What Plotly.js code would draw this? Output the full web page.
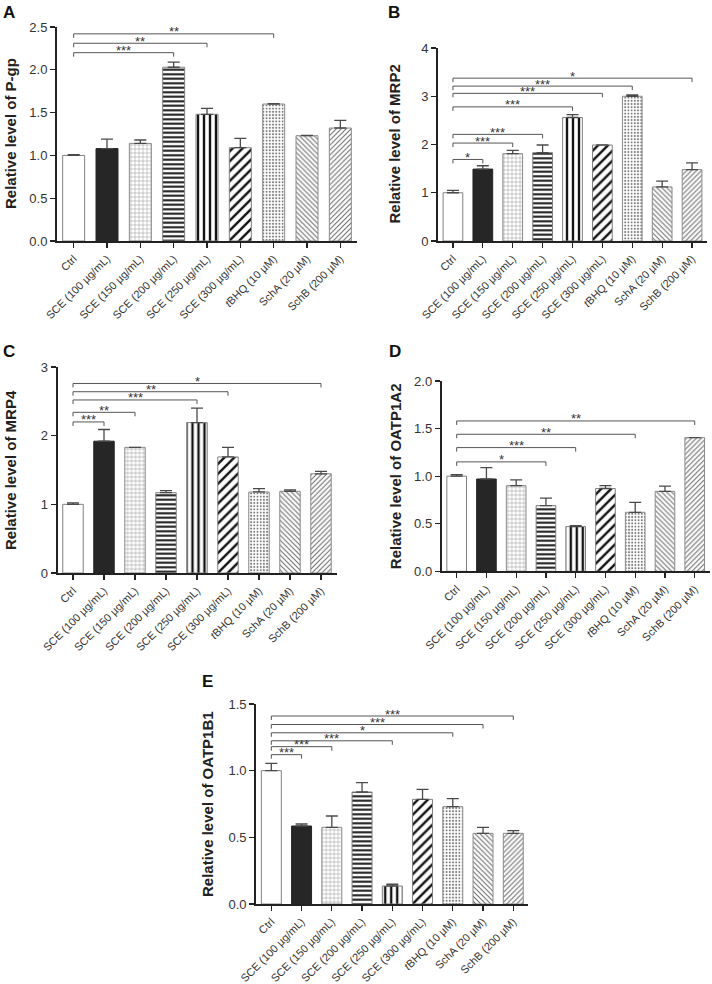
<!DOCTYPE html>
<html>
<head>
<meta charset="utf-8">
<script src="https://cdn.plot.ly/plotly-3.0.1.min.js"></script>
<style>html,body{margin:0;padding:0;background:#fff;}#chart{width:712px;height:984px;}</style>
</head>
<body>
<div id="chart"></div>
<script>
// ---------- DATA ----------
const categories = ["Ctrl", "SCE (100 µg/mL)", "SCE (150 µg/mL)", "SCE (200 µg/mL)", "SCE (250 µg/mL)",
  "SCE (300 µg/mL)", "<i>t</i>BHQ (10 µM)", "SchA (20 µM)", "SchB (200 µM)"];

const pgpMean   = [1.00, 1.08, 1.14, 2.03, 1.48, 1.09, 1.60, 1.23, 1.32];
const pgpErr    = [0.01, 0.11, 0.04, 0.06, 0.07, 0.11, 0.005, 0.005, 0.09];
const pgpSig    = [[3, 2.20, "***"], [4, 2.31, "**"], [6, 2.42, "**"]];

const mrp2Mean  = [1.00, 1.49, 1.81, 1.83, 2.56, 1.99, 3.00, 1.12, 1.48];
const mrp2Err   = [0.05, 0.07, 0.07, 0.16, 0.06, 0.00, 0.03, 0.12, 0.14];
const mrp2Sig   = [[1, 1.69, "*"], [2, 2.03, "***"], [3, 2.21, "***"], [4, 2.78, "***"], [5, 3.06, "***"], [6, 3.21, "***"], [8, 3.375, "*"]];

const mrp4Mean  = [1.00, 1.92, 1.83, 1.17, 2.19, 1.69, 1.18, 1.19, 1.445];
const mrp4Err   = [0.02, 0.17, 0.00, 0.03, 0.21, 0.14, 0.05, 0.02, 0.035];
const mrp4Sig   = [[1, 2.20, "***"], [2, 2.34, "**"], [4, 2.52, "***"], [5, 2.64, "**"], [8, 2.76, "*"]];

const oatp1a2Mean = [1.00, 0.97, 0.90, 0.69, 0.47, 0.87, 0.62, 0.84, 1.405];
const oatp1a2Err  = [0.015, 0.12, 0.06, 0.08, 0.01, 0.03, 0.105, 0.055, 0.00];
const oatp1a2Sig  = [[3, 1.15, "*"], [4, 1.30, "***"], [6, 1.44, "**"], [8, 1.58, "**"]];

const oatp1b1Mean = [1.00, 0.585, 0.575, 0.84, 0.135, 0.785, 0.73, 0.53, 0.53];
const oatp1b1Err  = [0.055, 0.015, 0.085, 0.07, 0.013, 0.075, 0.06, 0.045, 0.02];
const oatp1b1Sig  = [[1, 1.12, "***"], [2, 1.18, "***"], [4, 1.224, "***"], [6, 1.284, "*"], [7, 1.346, "***"], [8, 1.41, "***"]];

const yTitles = ["Relative level of P-gp", "Relative level of MRP2", "Relative level of MRP4",
  "Relative level of OATP1A2", "Relative level of OATP1B1"];
const panelLetters = ["A", "B", "C", "D", "E"];
const yMax = [2.5, 4, 3, 2.0, 1.5];
const yStep = [0.5, 1, 1, 0.5, 0.5];

// ---------- STYLE / LAYOUT ----------
const W = 712, H = 984;
// pixel geometry of each plot area: [left, right, top(ymax), bottom(y=0)]
const geom = [
  [57, 357, 27, 241],
  [438, 707, 48, 241],
  [57.5, 336.5, 367, 573],
  [441.8, 709.6, 381, 571.3],
  [256.2, 528.4, 704, 904]
];
const titleX = [10, 394, 10, 395, 207];
const letterPos = [[2, 2], [387, 2], [2, 341], [388, 341], [201, 671]];

// per-bar style: marker colour is the fill for plain bars and the ink colour for patterned bars
const patShape = ["", "", "+", "-", "|", "/", ".", "\\", "/"];
const barColor = ["#ffffff", "#262626", "#8c8c8c", "#141414", "#141414", "#141414", "#7a7a7a", "#6a6a6a", "#6a6a6a"];
const patSize  = [8, 8, 4, 4.5, 6, 7, 3.2, 3.5, 3.5];
const patSol   = [0.3, 0.3, 0.22, 0.45, 0.4, 0.35, 0.3, 0.3, 0.3];
const lineColor = ["#808080", "#262626", "#8a8a8a", "#808080", "#808080", "#808080", "#8a8a8a", "#8a8a8a", "#8a8a8a"];

const means = [pgpMean, mrp2Mean, mrp4Mean, oatp1a2Mean, oatp1b1Mean];
const errs = [pgpErr, mrp2Err, mrp4Err, oatp1a2Err, oatp1b1Err];
const sigs = [pgpSig, mrp2Sig, mrp4Sig, oatp1a2Sig, oatp1b1Sig];

const idx = categories.map((c, i) => i);
const traces = [];
const fontFam = "Liberation Sans, Arial, sans-serif";
const layout = {
  width: W, height: H,
  margin: {l: 0, r: 0, t: 0, b: 0},
  paper_bgcolor: "#fff", plot_bgcolor: "#fff",
  showlegend: false,
  font: {family: fontFam, color: "#333"},
  shapes: [], annotations: []
};

for (let p = 0; p < 5; p++) {
  const [L, R, T, B] = geom[p];
  const sx = p === 0 ? "" : String(p + 1);
  const xa = "x" + sx, ya = "y" + sx;
  traces.push({
    type: "bar", x: idx, y: means[p], xaxis: xa, yaxis: ya, width: 0.66,
    marker: {
      color: barColor,
      line: {color: lineColor, width: 1},
      pattern: {shape: patShape, size: patSize, solidity: patSol, fillmode: "replace"}
    },
    error_y: {type: "data", symmetric: false, array: errs[p], arrayminus: errs[p].map(() => 0),
      color: "#4a4a4a", thickness: 1.3, width: 6},
    hoverinfo: "skip"
  });
  const ticks = [];
  for (let v = 0; v <= yMax[p] + 1e-9; v += yStep[p]) ticks.push(+v.toFixed(2));
  layout["xaxis" + sx] = {
    domain: [L / W, R / W], anchor: ya, range: [-0.5, 8.5],
    tickvals: idx, ticktext: categories, tickangle: -45,
    tickfont: {size: 11, color: "#333", family: fontFam},
    showline: true, linewidth: 2, linecolor: "#222",
    ticks: "outside", ticklen: 5, tickwidth: 1.3, tickcolor: "#222",
    showgrid: false, zeroline: false, fixedrange: true
  };
  layout["yaxis" + sx] = {
    domain: [1 - B / H, 1 - T / H], anchor: xa, range: [0, yMax[p]],
    tickvals: ticks, ticktext: ticks.map(v => yStep[p] < 1 ? v.toFixed(1) : String(v)),
    tickfont: {size: 13, color: "#333", family: fontFam},
    showline: true, linewidth: 2, linecolor: "#222",
    ticks: "outside", ticklen: 5, tickwidth: 1.3, tickcolor: "#222",
    showgrid: false, zeroline: false, fixedrange: true
  };
  // significance brackets
  const drop = 4 * yMax[p] / (B - T);
  sigs[p].forEach(([to, y, lab]) => {
    layout.shapes.push({
      type: "path", xref: xa, yref: ya,
      path: `M 0,${y - drop} L 0,${y} L ${to},${y} L ${to},${y - drop}`,
      line: {color: "#555", width: 1}
    });
    layout.annotations.push({
      xref: xa, yref: ya, x: to / 2, y: y, text: lab, showarrow: false,
      yanchor: "middle", yshift: 2,
      font: {size: 13, color: "#333", family: fontFam}
    });
  });
  // y-axis titles
  layout.annotations.push({
    xref: "paper", yref: "paper", x: titleX[p] / W, y: 1 - ((T + B) / 2) / H,
    text: "<b>" + yTitles[p] + "</b>", textangle: -90, showarrow: false,
    xanchor: "center", yanchor: "middle",
    font: {size: 15, color: "#222", family: fontFam}
  });
  // panel letters
  layout.annotations.push({
    xref: "paper", yref: "paper", x: letterPos[p][0] / W, y: 1 - letterPos[p][1] / H,
    text: "<b>" + panelLetters[p] + "</b>", showarrow: false,
    xanchor: "left", yanchor: "top", borderpad: 0,
    font: {size: 17, color: "#111", family: fontFam}
  });
}

Plotly.newPlot("chart", traces, layout, {staticPlot: true, displayModeBar: false});
</script>
</body>
</html>
